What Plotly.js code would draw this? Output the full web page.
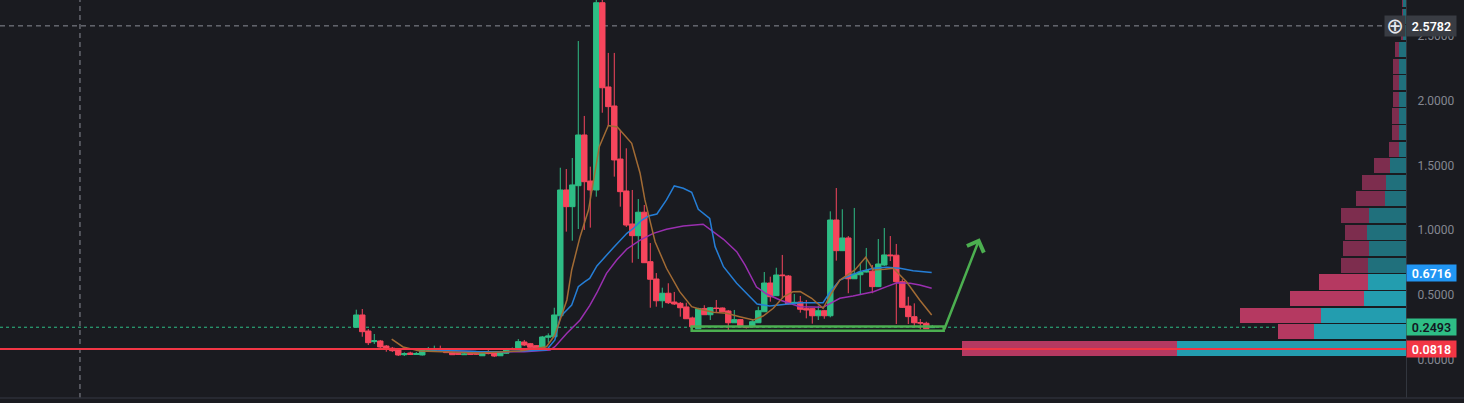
<!DOCTYPE html>
<html>
<head>
<meta charset="utf-8">
<script src="https://cdn.plot.ly/plotly-3.0.1.min.js"></script>
<style>
  html, body { margin: 0; padding: 0; background: #1a1b20; }
  #chart { width: 1464px; height: 403px; }
</style>
</head>
<body>
<div id="chart"></div>
<script>
// ---- candle data ----
const open = [0.249,0.344,0.220,0.138,0.143,0.104,0.087,0.079,0.037,0.050,
  0.039,0.035,0.071,0.068,0.083,0.079,0.060,0.048,0.037,0.048,
  0.053,0.029,0.054,0.053,0.029,0.048,0.077,0.081,0.135,0.122,
  0.107,0.087,0.172,0.176,0.338,1.310,1.181,1.343,1.735,1.379,
  1.310,2.757,2.106,1.959,1.549,1.302,1.047,0.957,1.138,0.756,
  0.622,0.454,0.512,0.444,0.434,0.406,0.321,0.238,0.393,0.346,
  0.398,0.398,0.375,0.284,0.308,0.255,0.253,0.284,0.369,0.591,
  0.493,0.653,0.645,0.431,0.444,0.393,0.393,0.338,0.377,0.338,
  1.078,0.841,0.939,0.624,0.655,0.676,0.682,0.563,0.730,0.808,
  0.806,0.601,0.413,0.331,0.284,0.280,0.246];
const close = [0.344,0.215,0.130,0.145,0.097,0.081,0.068,0.035,0.045,0.039,
  0.046,0.073,0.079,0.076,0.073,0.053,0.037,0.040,0.043,0.040,
  0.040,0.058,0.046,0.027,0.053,0.081,0.085,0.138,0.112,0.094,
  0.087,0.174,0.182,0.344,1.310,1.181,1.349,1.735,1.374,1.310,
  2.757,2.100,1.954,1.542,1.297,1.039,0.957,1.138,0.748,0.620,
  0.454,0.512,0.439,0.429,0.400,0.315,0.253,0.393,0.346,0.400,
  0.394,0.369,0.284,0.308,0.253,0.247,0.292,0.377,0.591,0.485,
  0.653,0.648,0.429,0.442,0.388,0.383,0.338,0.377,0.338,1.078,
  0.841,0.939,0.624,0.661,0.676,0.686,0.563,0.738,0.808,0.802,
  0.601,0.403,0.331,0.284,0.282,0.238,0.2493];
const high = [0.385,0.390,0.236,0.197,0.151,0.112,0.097,0.081,0.056,0.060,
  0.058,0.081,0.097,0.107,0.107,0.081,0.066,0.060,0.050,0.058,
  0.058,0.060,0.073,0.058,0.060,0.089,0.093,0.158,0.151,0.128,
  0.112,0.182,0.202,0.400,1.482,1.472,1.557,2.461,1.882,1.490,
  2.840,2.840,2.369,2.369,1.774,1.632,1.310,1.240,1.194,0.900,
  0.668,0.555,0.589,0.522,0.444,0.439,0.331,0.400,0.419,0.406,
  0.460,0.402,0.383,0.383,0.313,0.259,0.305,0.408,0.676,0.640,
  0.709,0.808,0.653,0.506,0.491,0.460,0.398,0.416,0.383,1.145,
  1.325,1.161,0.954,1.171,0.743,0.862,0.730,0.931,1.016,0.954,
  0.893,0.620,0.485,0.434,0.313,0.292,0.267];
const low = [0.247,0.176,0.112,0.120,0.087,0.060,0.058,0.027,0.027,0.035,
  0.035,0.031,0.066,0.066,0.066,0.050,0.035,0.035,0.035,0.035,
  0.035,0.027,0.040,0.019,0.027,0.043,0.073,0.077,0.104,0.089,
  0.081,0.081,0.130,0.174,0.336,0.988,0.918,1.008,1.001,1.019,
  1.258,1.907,1.804,1.413,1.181,1.024,0.748,0.777,0.746,0.400,
  0.408,0.400,0.429,0.421,0.331,0.313,0.251,0.236,0.344,0.305,
  0.359,0.367,0.228,0.282,0.251,0.240,0.251,0.282,0.367,0.447,
  0.491,0.473,0.425,0.429,0.362,0.318,0.277,0.305,0.315,0.326,
  0.764,0.838,0.512,0.622,0.506,0.672,0.512,0.560,0.723,0.761,
  0.274,0.398,0.274,0.253,0.233,0.236,0.243];
const barIndex = open.map((_, i) => i);

// ---- moving-average lines ----
const maFastX = [5.9,7.8,10.6,15.6,20.6,27.3,31.7,33.1,34,35.1,35.9,37.3,38.7,39.8,40.5,42,43.5,45.9,47.3,48.1,49,49.8,51.7,53.9,55.9,57.3,59.5,61.7,63.9,66.2,67.8,69.5,71.2,72.8,74,75.9,77.8,79.2,80.6,83.1,84.9,86.2,88.1,89.5,91.7,93.9,95.9];
const maFastY = [0.158,0.097,0.066,0.058,0.050,0.066,0.099,0.189,0.305,0.460,0.692,0.949,1.155,1.464,1.645,1.808,1.797,1.671,1.439,1.233,1.055,0.910,0.705,0.524,0.408,0.388,0.365,0.357,0.331,0.305,0.336,0.396,0.485,0.524,0.525,0.473,0.396,0.512,0.614,0.692,0.790,0.692,0.697,0.705,0.601,0.460,0.344];
const maMidX = [12,20,24.8,31.7,33.1,34,35.1,35.9,36.4,37,38.1,38.9,40.1,41.2,42.8,45.1,46.2,47.6,48.7,50.1,51.7,53,54.5,55.9,57,58.9,59.8,61.2,63.4,65.6,66.8,68.9,73.9,77.8,79,80.6,82.3,83.9,86.2,88.4,90.6,92.8,95.9];
const maMidY = [0.075,0.062,0.060,0.073,0.151,0.331,0.383,0.421,0.485,0.563,0.601,0.627,0.723,0.782,0.862,0.975,1.014,1.078,1.109,1.124,1.233,1.341,1.323,1.292,1.161,1.091,0.872,0.717,0.589,0.485,0.429,0.413,0.439,0.439,0.524,0.614,0.645,0.679,0.705,0.712,0.705,0.686,0.6716];
const maSlowX = [16,22.3,28,32.3,33.1,35.1,37.3,38.9,40.1,41.7,43.4,45.1,47.3,49.5,51.7,54.5,57.8,59.5,61.2,63.4,64.8,66.7,68.4,70.6,73.9,77.8,80.6,82.8,86.2,88.4,90.1,92.3,93.9,95.9];
const maSlowY = [0.065,0.058,0.060,0.073,0.099,0.203,0.305,0.416,0.516,0.666,0.769,0.854,0.923,0.975,1.006,1.032,1.045,0.988,0.929,0.833,0.730,0.560,0.506,0.460,0.408,0.403,0.473,0.491,0.524,0.563,0.593,0.589,0.576,0.550];

// ---- volume profile (price bins and volumes) ----
const binPrice = [0.086,0.214,0.343,0.471,0.599,0.728,0.856,0.984,1.113,1.241,1.369,1.497,1.626,1.754,1.882,2.011,2.139,2.267,2.396,2.524,2.652,2.781];
const upVol   = [229,92,85,42,38,38,37,39,37,21,20,16,7,7,7,7,7,7,7,3,3,3];
const downVol = [215,36,81,74,49,27,26,22,28,29,24,16,10,7,7,6,6,6,4,2,1,1];
const valueAreaHigh = 0.66;

// ---- levels, drawings and axis labels ----
const lastPrice = 0.2493;
const maMidLast = 0.6716;
const supportLine = 0.0818;
const crosshairPrice = 2.5782;
const crosshairIndex = -46.05;
const zoneStart = 55.9, zoneEnd = 97.9, zoneLow = 0.2226, zoneHigh = 0.255;
const arrowTipIndex = 103.9, arrowTipPrice = 0.937;
const tickVals = [0, 0.5, 1.0, 1.5, 2.0, 2.5];
const tickText = ['0.0000','0.5000','1.0000','1.5000','2.0000','2.5000'];

// ---- styling ----
const BG = '#1a1b20';
const UP = '#2ebd85', DOWN = '#f6465d';
const FONT = 'Roboto, "Liberation Sans", sans-serif';

const teal = binPrice.map(p => p < valueAreaHigh ? '#239daf' : '#20707c');
const pink = binPrice.map(p => p < valueAreaHigh ? '#b53961' : '#7d2d4e');

const traces = [
  {
    type: 'candlestick', x: barIndex, open: open, high: high, low: low, close: close,
    increasing: { line: { color: UP, width: 1 }, fillcolor: UP },
    decreasing: { line: { color: DOWN, width: 1 }, fillcolor: DOWN },
    whiskerwidth: 0, hoverinfo: 'none', showlegend: false
  },
  { type: 'scatter', mode: 'lines', x: maSlowX, y: maSlowY, line: { color: '#9a2fb0', width: 1.5 }, hoverinfo: 'none', showlegend: false },
  { type: 'scatter', mode: 'lines', x: maMidX, y: maMidY, line: { color: '#257ed6', width: 1.5 }, hoverinfo: 'none', showlegend: false },
  { type: 'scatter', mode: 'lines', x: maFastX, y: maFastY, line: { color: '#a26b34', width: 1.5 }, hoverinfo: 'none', showlegend: false },
  {
    type: 'bar', orientation: 'h', xaxis: 'x2', yaxis: 'y', y: binPrice, x: upVol,
    width: 0.117, marker: { color: teal, line: { width: 0 } }, hoverinfo: 'none', showlegend: false
  },
  {
    type: 'bar', orientation: 'h', xaxis: 'x2', yaxis: 'y', y: binPrice, x: downVol,
    width: 0.117, marker: { color: pink, line: { width: 0 } }, hoverinfo: 'none', showlegend: false
  }
];

function priceLabel(y, text, bg, fg) {
  return {
    xref: 'paper', x: 1, xanchor: 'left', yref: 'y', y: y, yanchor: 'middle',
    text: text, showarrow: false, bgcolor: bg, borderpad: 2, width: 45, height: 12,
    align: 'center', font: { family: FONT, size: 12.5, color: fg, weight: 600 }
  };
}

const layout = {
  width: 1464, height: 403,
  margin: { l: 0, r: 58, t: 0, b: 5, pad: 0 },
  paper_bgcolor: BG, plot_bgcolor: BG,
  showlegend: false,
  barmode: 'stack', bargap: 0,
  boxgap: 0.05, boxgroupgap: 0.05,
  xaxis: {
    range: [-59.38, 174.95], showgrid: false, zeroline: false, showticklabels: false,
    showline: false, ticks: '', fixedrange: true, rangeslider: { visible: false }
  },
  xaxis2: { overlaying: 'x', anchor: 'y', range: [1406, 0], visible: false, fixedrange: true },
  yaxis: {
    range: [-0.2975, 2.778], side: 'right', showgrid: false, zeroline: false,
    tickvals: tickVals, ticktext: tickText, ticks: '', ticklabelstandoff: 8,
    tickfont: { family: FONT, size: 12, color: '#848791' },
    showline: true, linecolor: '#32363e', linewidth: 1, fixedrange: true
  },
  shapes: [
    // crosshair
    { type: 'line', layer: 'below', xref: 'x', yref: 'paper', x0: crosshairIndex, x1: crosshairIndex, y0: 0, y1: 1,
      line: { color: '#8a8d96', width: 1, dash: '5px,4px' } },
    { type: 'line', layer: 'below', xref: 'paper', yref: 'y', x0: 0, x1: 1, y0: crosshairPrice, y1: crosshairPrice,
      line: { color: '#8a8d96', width: 1, dash: '5px,4px' } },
    // last price line
    { type: 'line', layer: 'below', xref: 'paper', yref: 'y', x0: 0, x1: 1, y0: lastPrice, y1: lastPrice,
      line: { color: '#2ebd85', width: 1, dash: 'dot' } },
    // horizontal support line
    { type: 'line', layer: 'above', xref: 'paper', yref: 'y', x0: 0, x1: 1, y0: supportLine, y1: supportLine,
      line: { color: '#f23645', width: 2 } },
    // accumulation zone
    { type: 'rect', layer: 'above', xref: 'x', yref: 'y', x0: zoneStart, x1: zoneEnd, y0: zoneLow, y1: zoneHigh,
      line: { color: '#4caf50', width: 2.5 }, fillcolor: 'rgba(0,0,0,0)' },
    // bottom border
    { type: 'line', layer: 'above', xref: 'paper', yref: 'paper', x0: 0, x1: 1.05, y0: 0, y1: 0,
      line: { color: '#2c2f37', width: 1.5 } }
  ],
  annotations: [
    {
      xref: 'x', yref: 'y', x: arrowTipIndex, y: arrowTipPrice, axref: 'x', ayref: 'y',
      ax: zoneEnd, ay: zoneLow, text: '', showarrow: true, arrowhead: 4, arrowsize: 1.4,
      arrowwidth: 2.5, arrowcolor: '#4caf50', standoff: 0, startstandoff: 0
    },
    {
      xref: 'paper', x: 1, xanchor: 'right', yref: 'y', y: crosshairPrice, yanchor: 'middle',
      text: '⊕', showarrow: false, bgcolor: '#393c43', borderpad: 1, width: 18, height: 18,
      font: { family: '"DejaVu Sans"', size: 21, color: '#e6e8ee' }
    },
    Object.assign(priceLabel(crosshairPrice, '2.5782', '#393c43', '#ffffff'), { height: 16 }),
    priceLabel(maMidLast, '0.6716', '#2196f3', '#ffffff'),
    priceLabel(lastPrice, '0.2493', '#2ebd85', '#131722'),
    priceLabel(supportLine, '0.0818', '#f23645', '#ffffff')
  ]
};

Plotly.newPlot('chart', traces, layout, { staticPlot: true, displayModeBar: false });
</script>
</body>
</html>
